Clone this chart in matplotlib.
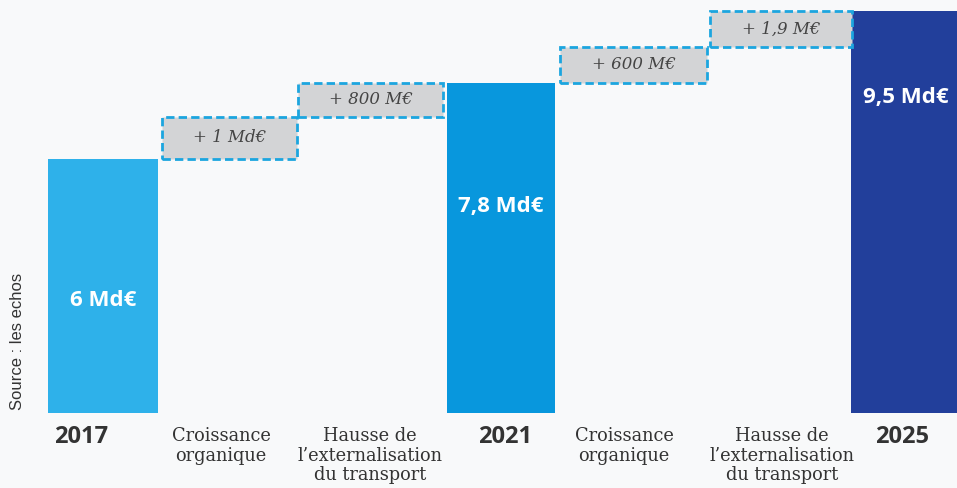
import matplotlib
matplotlib.use("Agg")
import matplotlib.pyplot as plt
from matplotlib.patches import Rectangle

# Données (Md€)
years = ["2017", "2021", "2025"]
totals = [6.0, 7.8, 9.5]
total_labels = ["6 Md€", "7,8 Md€", "9,5 Md€"]

steps = ["Croissance\norganique", "Hausse de\nl’externalisation\ndu transport",
         "Croissance\norganique", "Hausse de\nl’externalisation\ndu transport"]
step_bottom = [6.0, 7.0, 7.8, 8.65]
step_top = [7.0, 7.8, 8.65, 9.5]
step_labels = ["+ 1 Md€", "+ 800 M€", "+ 600 M€", "+ 1,9 M€"]

bar_colors = ["#2eb1ea", "#0897dd", "#223f9b"]
bg = "#f8f9fa"

fig = plt.figure(figsize=(9.57, 4.88), dpi=100, facecolor=bg)
ax = fig.add_axes([0, 0, 1, 1])
ax.set_facecolor(bg)
ax.set_xlim(0, 957)
ax.set_ylim(-1.77, 9.76)
ax.axis("off")

# mise en page horizontale (pixels)
x_tot = [103, 501, 906]
w_tot = [110, 108, 110]
x_step = [229.5, 370.5, 633.5, 781]
w_step = [135, 145, 147, 142]
label_y = [2.67, 4.87, 7.45]

ax.bar(x_tot, totals, width=w_tot, color=bar_colors, zorder=2)
for x, v, lab, ly in zip(x_tot, totals, total_labels, label_y):
    ax.text(x, ly, lab, color="white", fontsize=16, fontweight="bold",
            family="Open Sans", ha="center", va="center", zorder=3)

for x, w, b, t, lab in zip(x_step, w_step, step_bottom, step_top, step_labels):
    r = Rectangle((x - w / 2, b), w, t - b, facecolor="#d3d4d6",
                  edgecolor="#1ca5df", linestyle=(0, (3, 1.5)), linewidth=2, zorder=2)
    ax.add_patch(r)
    ax.text(x, (b + t) / 2, lab, fontsize=12, style="italic", family="DejaVu Serif",
            color="#444444", ha="center", va="center", zorder=3)

# étiquettes de catégories
for x, y in zip([81, 505, 902], years):
    ax.text(x, -0.56, y, fontsize=17, fontweight="bold",
            family="Open Sans", color="#333333", ha="center", va="center")
for x, s in zip([221, 370, 624, 782], steps):
    ax.text(x, -0.33, s, fontsize=12.8, family="DejaVu Serif", color="#333333",
            ha="center", va="top", linespacing=1.12)

fig.text(0.018, 0.30, "Source : les echos", rotation=90, fontsize=12,
         family="Liberation Sans", color="#333333", ha="center", va="center")

fig.savefig("out.png", dpi=100, facecolor=bg)
